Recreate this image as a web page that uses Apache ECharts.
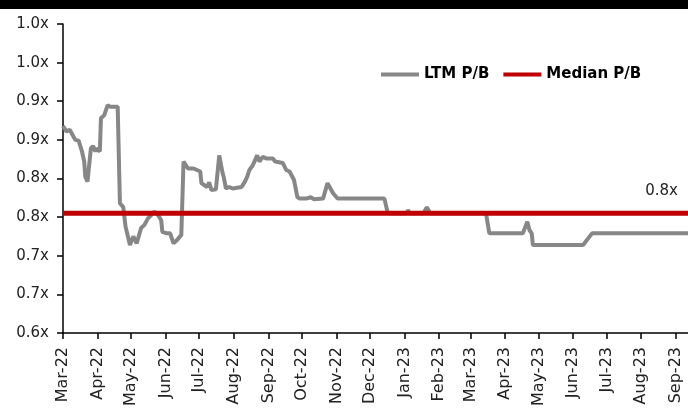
<!DOCTYPE html>
<html>
<head>
<meta charset="utf-8">
<script src="https://cdn.jsdelivr.net/npm/echarts@6/dist/echarts.min.js"></script>
<style>
  html, body { margin: 0; padding: 0; background: #fff; }
  #topband { position: absolute; left: 0; top: 0; width: 688px; height: 9px; background: #000; z-index: 2; }
  #chart { width: 688px; height: 417px; }
</style>
</head>
<body>
<div id="topband"></div>
<div id="chart"></div>
<script>
// LTM P/B at each turning point
const ltmDates = [
  '2022-03-01', '2022-03-04', '2022-03-07', '2022-03-09', '2022-03-12', '2022-03-15',
  '2022-03-18', '2022-03-20', '2022-03-21', '2022-03-23', '2022-03-24', '2022-03-26',
  '2022-03-28', '2022-03-30', '2022-03-31', '2022-04-03', '2022-04-04', '2022-04-07',
  '2022-04-10', '2022-04-12', '2022-04-19', '2022-04-21', '2022-04-24', '2022-04-26',
  '2022-04-30', '2022-05-03', '2022-05-06', '2022-05-10', '2022-05-13', '2022-05-16',
  '2022-05-22', '2022-05-25', '2022-05-28', '2022-05-29', '2022-06-02', '2022-06-05',
  '2022-06-08', '2022-06-11', '2022-06-15', '2022-06-17', '2022-06-18', '2022-06-21',
  '2022-06-26', '2022-06-29', '2022-07-02', '2022-07-03', '2022-07-08', '2022-07-10',
  '2022-07-12', '2022-07-16', '2022-07-19', '2022-07-22', '2022-07-23', '2022-07-25',
  '2022-07-28', '2022-07-31', '2022-08-08', '2022-08-11', '2022-08-13', '2022-08-15',
  '2022-08-18', '2022-08-22', '2022-08-24', '2022-08-27', '2022-08-30', '2022-09-05',
  '2022-09-07', '2022-09-14', '2022-09-17', '2022-09-20', '2022-09-24', '2022-09-27',
  '2022-09-29', '2022-10-05', '2022-10-09', '2022-10-12', '2022-10-20', '2022-10-24',
  '2022-10-29', '2022-11-02', '2022-12-14', '2022-12-17', '2023-01-03', '2023-01-04',
  '2023-01-06', '2023-01-18', '2023-01-21', '2023-01-24', '2023-03-15', '2023-03-18',
  '2023-04-17', '2023-04-21', '2023-04-23', '2023-04-25', '2023-04-26', '2023-06-10',
  '2023-06-18', '2023-09-12'
];
const ltmValues = [
  0.868, 0.861, 0.863, 0.858, 0.850, 0.849,
  0.835, 0.822, 0.802, 0.796, 0.811, 0.839,
  0.842, 0.835, 0.839, 0.835, 0.878, 0.882,
  0.895, 0.893, 0.893, 0.768, 0.763, 0.738,
  0.714, 0.725, 0.716, 0.736, 0.740, 0.748,
  0.757, 0.753, 0.746, 0.731, 0.729, 0.729,
  0.716, 0.720, 0.727, 0.822, 0.824, 0.813,
  0.813, 0.811, 0.809, 0.794, 0.789, 0.795,
  0.785, 0.786, 0.830, 0.807, 0.802, 0.787,
  0.789, 0.787, 0.789, 0.796, 0.802, 0.811,
  0.817, 0.830, 0.822, 0.828, 0.826, 0.826,
  0.822, 0.820, 0.811, 0.809, 0.798, 0.776,
  0.774, 0.774, 0.776, 0.773, 0.774, 0.794,
  0.781, 0.774, 0.774, 0.755, 0.755, 0.759,
  0.755, 0.755, 0.763, 0.755, 0.755, 0.729,
  0.729, 0.744, 0.733, 0.729, 0.714, 0.714,
  0.729, 0.729
];

const medianPB = 0.755;
const startDate = '2022-03-01';
const endDate = '2023-09-12';

const monthTicks = [
  '2022-03-01', '2022-04-01', '2022-05-01', '2022-06-01', '2022-07-01', '2022-08-01',
  '2022-09-01', '2022-10-01', '2022-11-01', '2022-12-01', '2023-01-01', '2023-02-01',
  '2023-03-01', '2023-04-01', '2023-05-01', '2023-06-01', '2023-07-01', '2023-08-01',
  '2023-09-01'
];
const monthNames = ['Jan', 'Feb', 'Mar', 'Apr', 'May', 'Jun', 'Jul', 'Aug', 'Sep', 'Oct', 'Nov', 'Dec'];

const toTime = s => +echarts.number.parseDate(s);
const FONT = 'DejaVu Sans';
const fmtX = v => (Math.round(v * 10) / 10).toFixed(1) + 'x';

const chart = echarts.init(document.getElementById('chart'));

chart.setOption({
  animation: false,
  textStyle: { fontFamily: FONT },
  grid: { left: 63, right: 0, top: 24, bottom: 84 },
  legend: {
    left: 376,
    top: 62,
    itemWidth: 38,
    itemHeight: 4,
    itemGap: 14,
    icon: 'rect',
    textStyle: { fontFamily: FONT, fontSize: 15, fontWeight: 'bold', color: '#000' },
    data: ['LTM P/B', 'Median P/B']
  },
  xAxis: {
    type: 'value',
    min: toTime(startDate),
    max: toTime(endDate),
    axisLine: { lineStyle: { color: '#000', width: 1.5 } },
    axisTick: {
      show: true,
      length: 6,
      customValues: monthTicks.map(toTime),
      lineStyle: { color: '#000', width: 1.5 }
    },
    axisLabel: {
      rotate: 90,
      margin: 14,
      fontSize: 16,
      color: '#222',
      customValues: monthTicks.map(toTime),
      formatter: val => {
        const d = new Date(val);
        return monthNames[d.getMonth()] + '-' + String(d.getFullYear()).slice(2);
      }
    },
    splitLine: { show: false }
  },
  yAxis: {
    type: 'value',
    min: 0.6,
    max: 1.0,
    interval: 0.05,
    axisLine: { show: true, lineStyle: { color: '#000', width: 1.5 } },
    axisTick: { show: true, inside: false, length: 6, lineStyle: { color: '#000', width: 1.5 } },
    axisLabel: { margin: 14, fontSize: 15, color: '#222', formatter: fmtX },
    splitLine: { show: false }
  },
  series: [
    {
      name: 'LTM P/B',
      type: 'line',
      showSymbol: false,
      color: '#878787',
      lineStyle: { width: 4, color: '#878787' },
      data: ltmDates.map((d, i) => [toTime(d), ltmValues[i]]),
      z: 2
    },
    {
      name: 'Median P/B',
      type: 'line',
      showSymbol: false,
      color: '#C00000',
      lineStyle: { width: 5, color: '#C00000' },
      data: [[toTime(startDate), medianPB], [toTime(endDate), medianPB]],
      endLabel: {
        show: true,
        formatter: p => fmtX(p.value[1]),
        fontSize: 15,
        color: '#222',
        align: 'right',
        offset: [-18, -22]
      },
      z: 3
    }
  ]
});
</script>
</body>
</html>
